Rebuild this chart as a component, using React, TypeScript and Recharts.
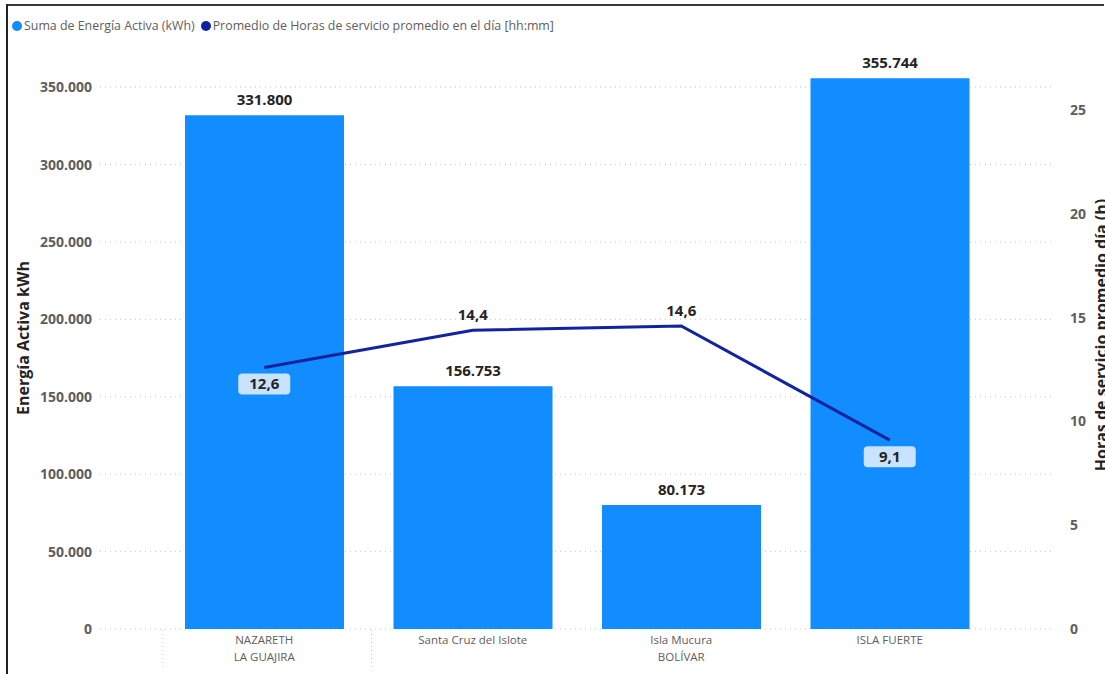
import React from "react";
import {
  ComposedChart, Bar, Line, XAxis, YAxis, CartesianGrid, LabelList,
} from "recharts";

const categories = ["NAZARETH", "Santa Cruz del Islote", "Isla Mucura", "ISLA FUERTE"];
const groups = ["LA GUAJIRA", "BOLÍVAR", "BOLÍVAR", "BOLÍVAR"];
const energia = [331800, 156753, 80173, 355744];
const horas = [12.6, 14.4, 14.6, 9.1];
const leftTicks = [0, 50000, 100000, 150000, 200000, 250000, 300000, 350000];
const rightTicks = [0, 5, 10, 15, 20, 25];
const seriesNames = [
  "Suma de Energía Activa (kWh)",
  "Promedio de Horas de servicio promedio en el día [hh:mm]",
];
const axisTitles = ["Energía Activa kWh", "Horas de servicio promedio día (h)"];

const LEFT_MAX = 374000;
const RIGHT_MAX = 27.9;

const W = 1105;
const H = 674;
const PAD_L = 60;
const PAD_R = 61;
const PLOT_W = 955;
const BAND = (PLOT_W - PAD_L - PAD_R) / categories.length;

const FONT = "'Open Sans', 'Noto Sans', sans-serif";
const BAR_COLOR = "#118DFF";
const LINE_COLOR = "#12239E";
const TICK_COLOR = "#605E5C";
const DARK = "#252423";

const data = categories.map((c, i) => ({
  name: c,
  group: groups[i],
  energia: energia[i],
  horas: horas[i],
}));

const fmtMiles = (v: number) => String(Math.round(v)).replace(/\B(?=(\d{3})+(?!\d))/g, ".");
const fmtDec = (v: number) => v.toFixed(1).replace(".", ",");

// index of the middle category of each group, and the first index of each group
const groupMid: Record<number, string> = {};
const groupStart: number[] = [];
{
  let s = 0;
  for (let i = 1; i <= groups.length; i++) {
    if (i === groups.length || groups[i] !== groups[s]) {
      groupMid[Math.floor((s + i - 1) / 2)] = groups[s];
      groupStart.push(s);
      s = i;
    }
  }
}

function CatTick(props: any) {
  const { x, y, payload } = props;
  const idx = payload.index;
  return (
    <g>
      {groupStart.includes(idx) && (
        <line x1={x - BAND / 2 + 3} x2={x - BAND / 2 + 3} y1={y - 7} y2={y + 31}
          stroke="#C8C6C4" strokeDasharray="1 3" />
      )}
      <text x={x} y={y + 7} textAnchor="middle" fill={TICK_COLOR} fontSize={11.5} fontFamily={FONT}>
        {payload.value}
      </text>
      {groupMid[idx] && (
        <text x={x} y={y + 24} textAnchor="middle" fill={TICK_COLOR} fontSize={11.5} fontFamily={FONT}>
          {groupMid[idx]}
        </text>
      )}
    </g>
  );
}

function LineLabel(props: any) {
  const { x, y, value, index } = props;
  const onBar = horas[index] / RIGHT_MAX < energia[index] / LEFT_MAX;
  const txt = fmtDec(Number(value));
  if (!onBar) {
    return (
      <text x={x} y={y - 10} textAnchor="middle" fill={DARK} fontSize={15} fontWeight={700} fontFamily={FONT}>
        {txt}
      </text>
    );
  }
  return (
    <g>
      <rect x={x - 26} y={y + 6} width={52} height={21} rx={4} fill="#C8E2FF" />
      <text x={x} y={y + 21.5} textAnchor="middle" fill={DARK} fontSize={15} fontWeight={700} fontFamily={FONT}>
        {txt}
      </text>
    </g>
  );
}

export default function App() {
  return (
    <div style={{ position: "relative", width: W, height: H, overflow: "hidden", background: "#fff", fontFamily: FONT }}>
      <style>{`body{margin:0}`}</style>
      <div style={{ position: "absolute", left: 7, top: 4, width: W - 8, height: 2, background: "#3a3a3a" }} />
      <div style={{ position: "absolute", left: 6, top: 4, width: 2, height: H, background: "#222" }} />
      <div style={{ position: "absolute", left: 12, top: 17, display: "flex", alignItems: "center", fontSize: 12.4, color: TICK_COLOR, whiteSpace: "nowrap" }}>
        {seriesNames.map((n, i) => (
          <span key={n} style={{ display: "flex", alignItems: "center", marginRight: 6 }}>
            <span style={{ width: 10, height: 10, borderRadius: 5, background: i === 0 ? BAR_COLOR : LINE_COLOR, marginRight: 2 }} />
            {n}
          </span>
        ))}
      </div>
      <ComposedChart width={W} height={H} data={data} margin={{ top: 50, right: 0, bottom: 0, left: 0 }}>
        <CartesianGrid yAxisId="left" vertical={false} horizontalValues={leftTicks} stroke="#C8C6C4" strokeDasharray="1 4" />
        <XAxis dataKey="name" padding={{ left: PAD_L, right: PAD_R }} axisLine={false} tickLine={false}
          interval={0} height={45} tick={<CatTick />} />
        <YAxis yAxisId="left" width={100} domain={[0, LEFT_MAX]} ticks={leftTicks} axisLine={false} tickLine={false}
          tickFormatter={fmtMiles} tick={{ fill: TICK_COLOR, fontSize: 14, fontWeight: 700, fontFamily: FONT }}
          label={{
            content: () => (
              <text x={23} y={338} transform="rotate(-90 23 338)" textAnchor="middle" dominantBaseline="central"
                fill={DARK} fontSize={16} fontWeight={700} fontFamily={FONT}>{axisTitles[0]}</text>
            ),
          }} />
        <YAxis yAxisId="right" orientation="right" width={50} domain={[0, RIGHT_MAX]} ticks={rightTicks}
          axisLine={false} tickLine={false} tickMargin={9}
          tick={{ fill: TICK_COLOR, fontSize: 14, fontWeight: 700, fontFamily: FONT, textAnchor: "start" }}
          label={{
            content: () => (
              <text x={1101} y={335} transform="rotate(-90 1101 335)" textAnchor="middle" dominantBaseline="central"
                fill={DARK} fontSize={16} fontWeight={700} fontFamily={FONT}>{axisTitles[1]}</text>
            ),
          }} />
        <Bar yAxisId="left" dataKey="energia" name={seriesNames[0]} fill={BAR_COLOR} barSize={159} isAnimationActive={false}>
          <LabelList dataKey="energia" position="top" offset={10} formatter={(v: any) => fmtMiles(Number(v))}
            fill={DARK} fontSize={15} fontWeight={700} fontFamily={FONT} />
        </Bar>
        <Line yAxisId="right" dataKey="horas" name={seriesNames[1]} stroke={LINE_COLOR} strokeWidth={3} dot={false}
          activeDot={false} isAnimationActive={false}>
          <LabelList dataKey="horas" content={<LineLabel />} />
        </Line>
      </ComposedChart>
    </div>
  );
}
